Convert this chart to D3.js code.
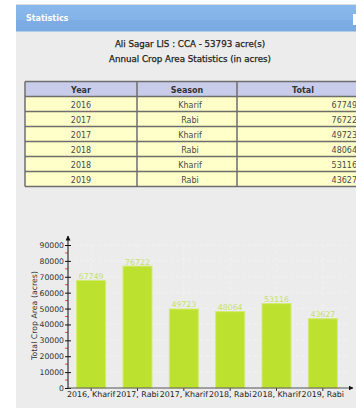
<!DOCTYPE html>
<html>
<head>
<meta charset="utf-8">
<script src="https://cdn.jsdelivr.net/npm/d3@7"></script>
<style>
  html, body { margin: 0; padding: 0; background: #ffffff; overflow: hidden; }
  svg { display: block; }
  text { font-family: "DejaVu Sans", Verdana, sans-serif; }
</style>
</head>
<body>
<script>
// Crop area statistics for Ali Sagar LIS
const years = ["2016", "2017", "2017", "2018", "2018", "2019"];
const seasons = ["Kharif", "Rabi", "Kharif", "Rabi", "Kharif", "Rabi"];
const totals = [67749, 76722, 49723, 48064, 53116, 43627];
const tableHeaders = ["Year", "Season", "Total"];
const yTickValues = [0, 10000, 20000, 30000, 40000, 50000, 60000, 70000, 80000, 90000];
const titleLines = ["Ali Sagar LIS : CCA - 53793 acre(s)", "Annual Crop Area Statistics (in acres)"];
const yAxisTitle = "Total Crop Area (acres)";

const W = 356, H = 408;
const svg = d3.select("body").append("svg").attr("width", W).attr("height", H);

const defs = svg.append("defs");
const grad = defs.append("linearGradient").attr("id", "hdr").attr("x1", 0).attr("y1", 0).attr("x2", 0).attr("y2", 1);
grad.append("stop").attr("offset", "0%").attr("stop-color", "#8ab8ec");
grad.append("stop").attr("offset", "55%").attr("stop-color", "#84b3e8");
grad.append("stop").attr("offset", "56%").attr("stop-color", "#7dade4");
grad.append("stop").attr("offset", "100%").attr("stop-color", "#7aaae2");

const arrowY = defs.append("marker").attr("id", "arr").attr("viewBox", "0 0 10 10")
  .attr("refX", 9).attr("refY", 5).attr("markerWidth", 5).attr("markerHeight", 5)
  .attr("orient", "auto");
arrowY.append("path").attr("d", "M0,0 L10,5 L0,10 Z").attr("fill", "#111");

// Panel background and header bar
svg.append("rect").attr("x", 16).attr("y", 4).attr("width", W - 16).attr("height", H - 4).attr("fill", "#ececec");
svg.append("line").attr("x1", 16).attr("x2", W).attr("y1", 4.5).attr("y2", 4.5).attr("stroke", "#dcdcdc");
svg.append("rect").attr("x", 16).attr("y", 5).attr("width", W - 16).attr("height", 26.5).attr("fill", "url(#hdr)");
svg.append("text").attr("x", 26).attr("y", 21).attr("fill", "#ffffff")
  .attr("font-size", 8).attr("font-weight", "bold").text("Statistics");
svg.append("rect").attr("x", 353).attr("y", 14).attr("width", 6).attr("height", 11).attr("fill", "#ffffff");

// Titles
svg.selectAll("text.title").data(titleLines).join("text")
  .attr("class", "title")
  .attr("x", 190).attr("y", (d, i) => 47 + i * 15)
  .attr("text-anchor", "middle").attr("font-size", 8.7).attr("fill", "#222")
  .attr("stroke", "#222").attr("stroke-width", 0.25)
  .text(d => d);

// Table
const colEdges = [25, 137, 237, 369];
const rowTop = 81.5, rowH = 15;
const rows = years.map((y, i) => [y, seasons[i], totals[i]]);
const tbl = svg.append("g");

// header
tbl.append("rect").attr("x", colEdges[0]).attr("y", rowTop).attr("width", colEdges[3] - colEdges[0])
  .attr("height", rowH).attr("fill", "#c9cbea");
rows.forEach((r, i) => {
  tbl.append("rect").attr("x", colEdges[0]).attr("y", rowTop + rowH * (i + 1))
    .attr("width", colEdges[3] - colEdges[0]).attr("height", rowH).attr("fill", "#ffffc9");
});
// grid lines of the table
d3.range(rows.length + 2).forEach(k => {
  tbl.append("line").attr("x1", colEdges[0]).attr("x2", colEdges[3])
    .attr("y1", rowTop + rowH * k).attr("y2", rowTop + rowH * k)
    .attr("stroke", "#6e6e6e").attr("stroke-width", 1.5);
});
colEdges.forEach(x => {
  tbl.append("line").attr("x1", x).attr("x2", x)
    .attr("y1", rowTop).attr("y2", rowTop + rowH * (rows.length + 1))
    .attr("stroke", "#6e6e6e").attr("stroke-width", 1.5);
});
tableHeaders.forEach((h, c) => {
  tbl.append("text").attr("x", (colEdges[c] + colEdges[c + 1]) / 2).attr("y", rowTop + 11)
    .attr("text-anchor", "middle").attr("font-size", 8).attr("font-weight", "bold")
    .attr("fill", "#333").text(h);
});
rows.forEach((r, i) => {
  const y = rowTop + rowH * (i + 1) + 11;
  tbl.append("text").attr("x", (colEdges[0] + colEdges[1]) / 2).attr("y", y)
    .attr("text-anchor", "middle").attr("font-size", 8).attr("fill", "#4a4a4a").text(r[0]);
  tbl.append("text").attr("x", (colEdges[1] + colEdges[2]) / 2 + 3).attr("y", y)
    .attr("text-anchor", "middle").attr("font-size", 8).attr("fill", "#4a4a4a").text(r[1]);
  tbl.append("text").attr("x", 357).attr("y", y)
    .attr("text-anchor", "end").attr("font-size", 8).attr("fill", "#4a4a4a").text(r[2]);
});

// Bar chart
const categories = years.map((y, i) => `${y}, ${seasons[i]}`);
const x0 = 68, x1 = 346, yBase = 388, yTop = 245;
const x = d3.scaleBand().domain(categories).range([x0, x1]).paddingInner(0.3525).paddingOuter(0.176);
const y = d3.scaleLinear().domain([0, 90000]).range([yBase, yTop]);

const chart = svg.append("g");

// faint dashed grid
chart.append("g").selectAll("line").data(yTickValues.slice(1)).join("line")
  .attr("x1", x0).attr("x2", 350).attr("y1", d => y(d)).attr("y2", d => y(d))
  .attr("stroke", "#f2f2f2").attr("stroke-dasharray", "3,3");
chart.append("g").selectAll("line").data(categories).join("line")
  .attr("x1", d => x(d) + x.bandwidth() / 2).attr("x2", d => x(d) + x.bandwidth() / 2)
  .attr("y1", yTop).attr("y2", yBase)
  .attr("stroke", "#f2f2f2").attr("stroke-dasharray", "3,3");

// bars
chart.append("g").selectAll("rect").data(totals).join("rect")
  .attr("x", (d, i) => x(categories[i]) + 0.5)
  .attr("y", d => y(d))
  .attr("width", x.bandwidth() - 1)
  .attr("height", d => yBase - y(d))
  .attr("fill", "#bde12f")
  .attr("stroke", "#d3ea73").attr("stroke-width", 1);

// value labels
chart.append("g").selectAll("text").data(totals).join("text")
  .attr("x", (d, i) => x(categories[i]) + x.bandwidth() / 2)
  .attr("y", d => y(d) - 1.5)
  .attr("text-anchor", "middle").attr("font-size", 7.8).attr("fill", "#c6df6c")
  .text(d => d);

// y axis
const yAxis = d3.axisLeft(y).tickValues(yTickValues).tickSize(3).tickPadding(1).tickFormat(d3.format("d"));
const gy = chart.append("g").attr("transform", `translate(${x0},0)`).call(yAxis);
gy.select(".domain").remove();
gy.selectAll(".tick line").attr("x2", 3).attr("x1", -3).attr("stroke", "#111");
gy.selectAll(".tick text").attr("font-size", 7.7).attr("fill", "#333")
  .attr("font-family", "DejaVu Sans, Verdana, sans-serif").attr("x", -4);
// minor ticks
chart.append("g").selectAll("line").data(d3.range(5000, 90000, 10000)).join("line")
  .attr("x1", x0 - 3).attr("x2", x0).attr("y1", d => y(d)).attr("y2", d => y(d))
  .attr("stroke", "#e05050");
chart.append("line").attr("x1", x0).attr("x2", x0).attr("y1", yBase).attr("y2", 236)
  .attr("stroke", "#111").attr("marker-end", "url(#arr)");

// x axis
const xAxis = d3.axisBottom(x).tickSize(3).tickPadding(1);
const gx = chart.append("g").attr("transform", `translate(0,${yBase})`).call(xAxis);
gx.select(".domain").remove();
gx.selectAll(".tick line").attr("stroke", "#333");
gx.selectAll(".tick text").attr("font-size", 7.9).attr("fill", "#222")
  .attr("font-family", "DejaVu Sans, Verdana, sans-serif").attr("dy", "0.62em");
chart.append("line").attr("x1", x0).attr("x2", 353).attr("y1", yBase).attr("y2", yBase)
  .attr("stroke", "#555").attr("marker-end", "url(#arr)");

// y axis title
svg.append("text").attr("transform", `translate(37,${(yBase + 245) / 2 - 1}) rotate(-90)`)
  .attr("text-anchor", "middle").attr("font-size", 7.8).attr("fill", "#333")
  .text(yAxisTitle);
</script>
</body>
</html>
